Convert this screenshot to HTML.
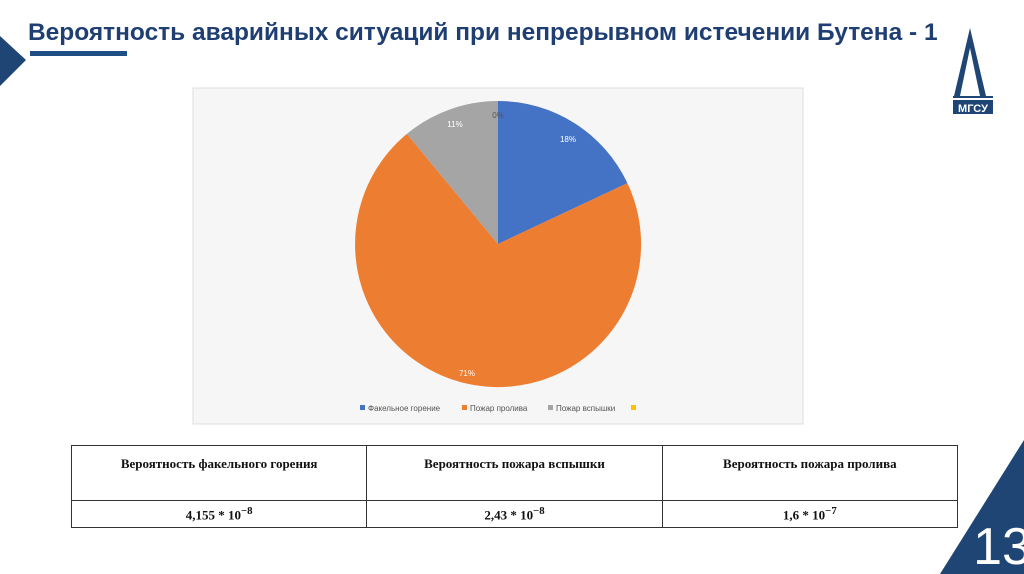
<!DOCTYPE html>
<html><head><meta charset="utf-8"><style>
body{margin:0;width:1024px;height:574px;background:#fff;position:relative;overflow:hidden;font-family:"Liberation Sans",sans-serif}
.title{position:absolute;left:28px;top:19px;font-size:24px;font-weight:bold;color:#1f3f72;white-space:nowrap;transform-origin:0 0;transform:scaleX(1.02)}
.bar{position:absolute;left:30px;top:51px;width:97px;height:5px;background:#1f4e85}
table{position:absolute;left:71px;top:445px;width:887px;border-collapse:collapse;font-family:"Liberation Serif",serif;font-weight:bold;font-size:13px;color:#111}
td{border:1px solid #333;text-align:center;width:33%}
</style></head><body>
<svg width="1024" height="574" style="position:absolute;left:0;top:0">
<polygon points="0,36 26,60 0,86" fill="#1f4575"/>
<polygon points="940,574 1024,440 1024,574" fill="#1f4575"/>
<text x="1002" y="564" font-family="Liberation Sans" font-size="52" fill="#fff" text-anchor="middle">13</text>
<rect x="193" y="88" width="610" height="336" fill="#f6f6f6" stroke="#ddd"/>
<path d="M498,244 L498,101 A143,143 0 0,1 627.4,183.1 Z" fill="#4472c4"/>
<path d="M498,244 L627.4,183.1 A143,143 0 1,1 406.9,133.9 Z" fill="#ed7d31"/>
<path d="M498,244 L406.9,133.9 A143,143 0 0,1 498,101 Z" fill="#a5a5a5"/>
<g font-size="8" font-family="Liberation Sans" fill="#fff" text-anchor="middle">
<text x="568" y="142">18%</text><text x="467" y="376">71%</text><text x="455" y="127">11%</text>
<text x="498" y="118" fill="#555">0%</text></g>
<g font-size="8" font-family="Liberation Sans" fill="#555">
<rect x="360" y="405" width="5" height="5" fill="#4472c4"/><text x="368" y="411">Факельное горение</text>
<rect x="462" y="405" width="5" height="5" fill="#ed7d31"/><text x="470" y="411">Пожар пролива</text>
<rect x="548" y="405" width="5" height="5" fill="#a5a5a5"/><text x="556" y="411">Пожар вспышки</text>
<rect x="631" y="405" width="5" height="5" fill="#ffc000"/></g>
<g transform="translate(948,28)" fill="#1f4575">
<polygon points="22,0 6,68 12,68 22,20 32,68 38,68" />
<rect x="5" y="68" width="40" height="2"/>
<rect x="5" y="72" width="40" height="14"/>
<text x="25" y="84" font-size="11" font-weight="bold" fill="#fff" text-anchor="middle" font-family="Liberation Sans">МГСУ</text>
</g>
</svg>
<div class="title">Вероятность аварийных ситуаций при непрерывном истечении Бутена - 1</div>
<div class="bar"></div>
<table><tr style="height:55px"><td style="vertical-align:top;padding-top:10px">Вероятность факельного горения</td><td style="vertical-align:top;padding-top:10px">Вероятность пожара вспышки</td><td style="vertical-align:top;padding-top:10px">Вероятность пожара пролива</td></tr>
<tr style="height:27px"><td>4,155 * 10<sup>−8</sup></td><td>2,43 * 10<sup>−8</sup></td><td>1,6 * 10<sup>−7</sup></td></tr></table>
</body></html>
